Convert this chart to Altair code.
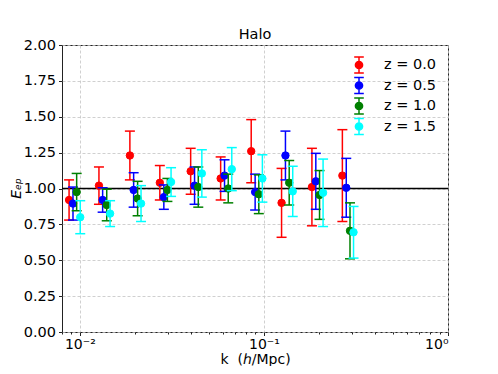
import altair as alt
import pandas as pd

series_names = ["z0.0", "z0.5", "z1.0", "z1.5"]
legend_labels = ["z = 0.0", "z = 0.5", "z = 1.0", "z = 1.5"]
series_colors = ["#ff0000", "#0000ff", "#008000", "#00ffff"]

k_z00 = [0.00874, 0.0127, 0.0187, 0.0272, 0.0400, 0.0582, 0.0853, 0.1247, 0.1823, 0.2668]
k_z05 = [0.00918, 0.0133, 0.0196, 0.0286, 0.0420, 0.0611, 0.0896, 0.1309, 0.1914, 0.2801]
k_z10 = [0.00961, 0.0140, 0.0206, 0.0299, 0.0440, 0.0640, 0.0938, 0.1372, 0.2005, 0.2935]
k_z15 = [0.01005, 0.0146, 0.0215, 0.0313, 0.0460, 0.0669, 0.0981, 0.1434, 0.2096, 0.3068]

e_z00 = [0.92, 1.02, 1.23, 1.04, 1.12, 1.07, 1.26, 0.90, 1.01, 1.09]
e_z05 = [0.895, 0.92, 0.99, 0.94, 1.02, 1.09, 0.975, 1.23, 1.05, 1.005]
e_z10 = [0.975, 0.885, 0.93, 0.99, 1.01, 1.00, 0.96, 1.04, 0.955, 0.705]
e_z15 = [0.80, 0.825, 0.895, 1.045, 1.105, 1.135, 1.07, 0.98, 0.97, 0.695]

err_z00 = [0.14, 0.13, 0.17, 0.12, 0.16, 0.15, 0.22, 0.24, 0.27, 0.32]
err_z05 = [0.115, 0.085, 0.12, 0.085, 0.13, 0.11, 0.125, 0.17, 0.195, 0.205]
err_z10 = [0.13, 0.11, 0.12, 0.08, 0.14, 0.10, 0.135, 0.155, 0.17, 0.195]
err_z15 = [0.115, 0.09, 0.125, 0.10, 0.165, 0.15, 0.165, 0.175, 0.235, 0.18]

y_ticks = [0.0, 0.25, 0.5, 0.75, 1.0, 1.25, 1.5, 1.75, 2.0]
x_major = [0.01, 0.1, 1.0]
x_minor = [0.008, 0.009, 0.02, 0.03, 0.04, 0.05, 0.06, 0.07, 0.08, 0.09,
           0.2, 0.3, 0.4, 0.5, 0.6, 0.7, 0.8, 0.9]

frames = []
for name, lab, ks, es, errs in zip(series_names, legend_labels,
                                   [k_z00, k_z05, k_z10, k_z15],
                                   [e_z00, e_z05, e_z10, e_z15],
                                   [err_z00, err_z05, err_z10, err_z15]):
    d = pd.DataFrame({"k": ks, "E": es, "err": errs})
    d["series"] = lab
    d["lo"] = d["E"] - d["err"]
    d["hi"] = d["E"] + d["err"]
    frames.append(d)
df = pd.concat(frames, ignore_index=True)

font = "DejaVu Sans"
xscale = alt.Scale(type="log", domain=[0.008, 1.0], nice=False)
yscale = alt.Scale(domain=[0, 2], nice=False)

xaxis = alt.Axis(values=x_major, grid=True, tickSize=3.5, labelPadding=2,
                 labelFontSize=14,
                 labelExpr="datum.value < 0.05 ? '10⁻²' : (datum.value < 0.5 ? '10⁻¹' : '10⁰')",
                 title="k\u00a0\u00a0(ℎ/Mpc)", titleX=193, titleY=31,
                 titleBaseline="alphabetic", titleAnchor="middle")
yaxis = alt.Axis(values=y_ticks, format=".2f", grid=True, tickSize=3.5, labelPadding=3,
                 title="Eₑₚ", titleFontStyle="italic", titleX=-42, titleY=143,
                 titleAngle=-90, titleBaseline="alphabetic", titleAlign="center")

X = lambda f: alt.X(f + ":Q", scale=xscale, axis=xaxis)
Y = lambda f: alt.Y(f + ":Q", scale=yscale, axis=yaxis)

sym_path = ("M0,-1L0,1M-0.6,-1L0.6,-1M-0.6,1L0.6,1"
            "M0.45,0A0.45,0.45,0,1,1,-0.45,0A0.45,0.45,0,1,1,0.45,0Z")
leg = alt.Legend(title=None, orient="none", legendX=288, legendY=11,
                 symbolType=sym_path, symbolSize=256, symbolStrokeWidth=1.5,
                 symbolOpacity=1, labelFont=font, labelFontSize=14.5,
                 labelColor="black", labelOffset=16, rowPadding=-1.5, padding=0,
                 symbolOffset=0)
cscale = alt.Scale(domain=legend_labels, range=series_colors)

hline = alt.Chart(pd.DataFrame({"y": [1.0]})).mark_rule(
    color="black", strokeWidth=1.5).encode(y=Y("y"))

layers = [hline]
for lab, col in zip(legend_labels, series_colors):
    base = alt.Chart(df).transform_filter(alt.datum.series == lab)
    bars = base.mark_rule(strokeWidth=1.5, color=col).encode(x=X("k"), y=Y("lo"), y2="hi:Q")
    cap_lo = base.mark_tick(orient="horizontal", size=10, thickness=1.5, color=col, opacity=1).encode(x=X("k"), y=Y("lo"))
    cap_hi = base.mark_tick(orient="horizontal", size=10, thickness=1.5, color=col, opacity=1).encode(x=X("k"), y=Y("hi"))
    pts = base.mark_circle(size=55, opacity=1, strokeWidth=1).encode(
        x=X("k"), y=Y("E"),
        fill=alt.Fill("series:N", scale=cscale, legend=leg),
        stroke=alt.Stroke("series:N", scale=cscale, legend=leg))
    layers += [bars, cap_lo, cap_hi, pts]

inner = alt.layer(*layers)

minor = alt.Chart(pd.DataFrame({"m": x_minor})).mark_rule(opacity=0).encode(
    x=alt.X("m:Q", scale=xscale,
            axis=alt.Axis(values=x_minor, labels=False, tickSize=2, grid=False,
                          orient="bottom", title=None, domain=False)))

chart = alt.layer(inner, minor).resolve_axis(x="independent").properties(
    width=386, height=287,
    autosize=alt.AutoSizeParams(type="none"),
    padding={"left": 54, "top": 37, "right": 40, "bottom": 34},
    title=alt.TitleParams("Halo", font=font, fontSize=14.5, fontWeight="normal",
                          anchor="middle", frame="group", offset=7, dy=23,
                          baseline="alphabetic", color="black"),
).configure_view(stroke="#222222", strokeWidth=1).configure_axis(
    labelFont=font, titleFont=font, labelFontSize=14.5, titleFontSize=14,
    labelColor="black", titleColor="black", tickColor="#222222", domain=False,
    gridColor="#c4c4c4", gridDash=[3, 2], gridWidth=0.8, titleFontWeight="normal")

chart.save("out.html", embed_options={"renderer": "svg", "actions": False})
